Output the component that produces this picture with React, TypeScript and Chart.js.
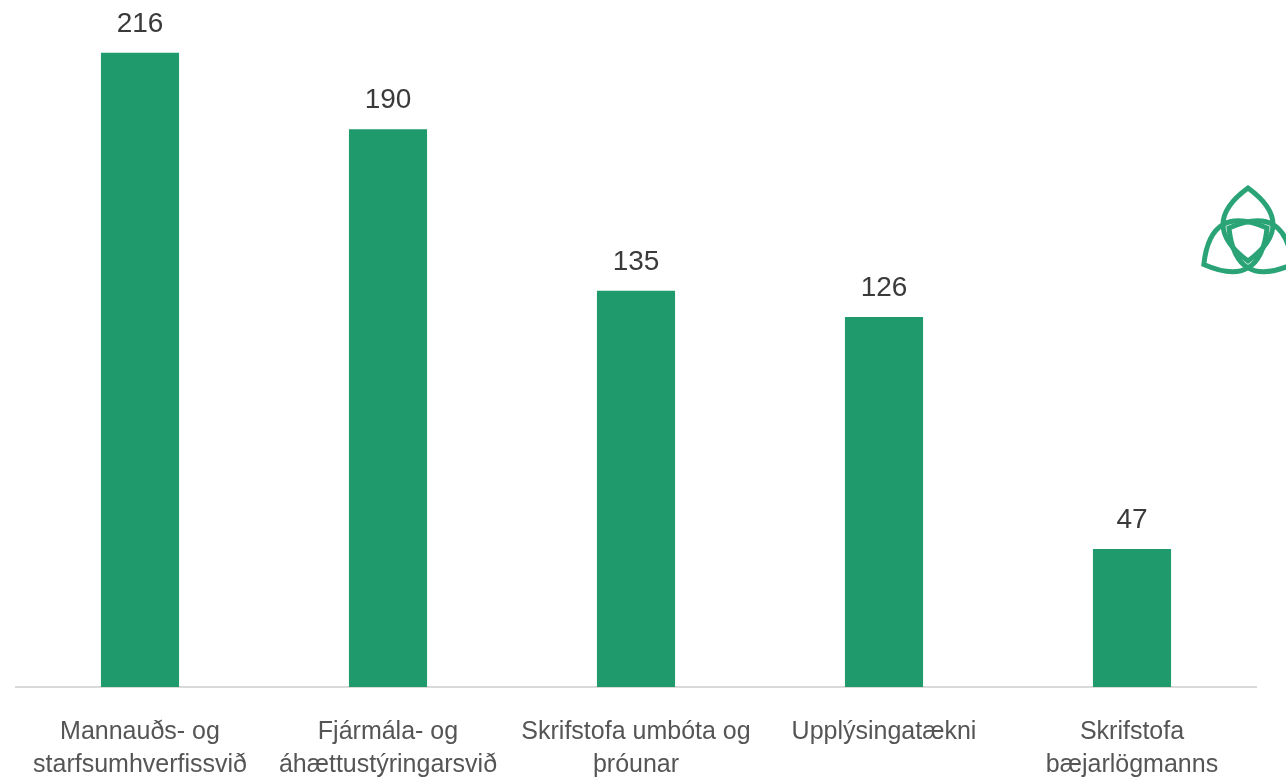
import React, { useEffect, useRef } from "react";
import { Chart, registerables } from "chart.js";

Chart.register(...registerables);

const categories: string[][] = [
  ["Mannauðs- og", "starfsumhverfissvið"],
  ["Fjármála- og", "áhættustýringarsvið"],
  ["Skrifstofa umbóta og", "þróunar"],
  ["Upplýsingatækni"],
  ["Skrifstofa", "bæjarlögmanns"],
];
const values: number[] = [216, 190, 135, 126, 47];

const BAR_COLOR = "#1f9a6c";
const LOGO_COLOR = "#2aa477";
const FONT = "'Liberation Sans', Arial, sans-serif";

const valueLabelPlugin = {
  id: "valueLabels",
  afterDatasetsDraw(chart: any) {
    const ctx = chart.ctx;
    const meta = chart.getDatasetMeta(0);
    ctx.save();
    ctx.font = `28px ${FONT}`;
    ctx.fillStyle = "#3a3a3a";
    ctx.textAlign = "center";
    ctx.textBaseline = "alphabetic";
    meta.data.forEach((bar: any, i: number) => {
      ctx.fillText(String(values[i]), bar.x, bar.y - 21);
    });
    ctx.restore();
  },
};

const logoPlugin = {
  id: "logo",
  afterDraw(chart: any) {
    const ctx = chart.ctx;
    const cx = 1248;
    const cy = 239;
    const L = 51;
    const back = 22;
    const hw = 25;
    ctx.save();
    ctx.lineWidth = 5;
    ctx.strokeStyle = LOGO_COLOR;
    ctx.lineJoin = "miter";
    [-90, 30, 150].forEach((deg) => {
      const a = (deg * Math.PI) / 180;
      const dx = Math.cos(a);
      const dy = Math.sin(a);
      const nx = -dy;
      const ny = dx;
      const p0x = cx - dx * back;
      const p0y = cy - dy * back;
      const p1x = cx + dx * L;
      const p1y = cy + dy * L;
      const mx = (p0x + p1x) / 2;
      const my = (p0y + p1y) / 2;
      ctx.beginPath();
      ctx.moveTo(p0x, p0y);
      ctx.quadraticCurveTo(mx + nx * hw * 2, my + ny * hw * 2, p1x, p1y);
      ctx.quadraticCurveTo(mx - nx * hw * 2, my - ny * hw * 2, p0x, p0y);
      ctx.closePath();
      ctx.stroke();
    });
    ctx.restore();
  },
};

export default function App() {
  const canvasRef = useRef<HTMLCanvasElement | null>(null);

  useEffect(() => {
    if (!canvasRef.current) return;
    const chart = new Chart(canvasRef.current, {
      type: "bar",
      data: {
        labels: categories,
        datasets: [
          {
            data: values,
            backgroundColor: BAR_COLOR,
            borderWidth: 0,
            barPercentage: 0.315,
            categoryPercentage: 1,
          },
        ],
      },
      options: {
        responsive: false,
        animation: false,
        devicePixelRatio: 1,
        layout: { padding: { left: 16, right: 30, top: 0, bottom: 0 } },
        plugins: {
          legend: { display: false },
          tooltip: { enabled: false },
        },
        scales: {
          x: {
            grid: { display: false },
            border: { display: true, color: "#d9d9d9", width: 2 },
            ticks: {
              color: "#555555",
              font: { family: FONT, size: 25, lineHeight: 1.32 },
              padding: 21,
              maxRotation: 0,
              autoSkip: false,
            },
            afterFit: (axis: any) => {
              axis.height = 93;
            },
          },
          y: {
            display: false,
            min: 0,
            max: 234,
          },
        },
      },
      plugins: [valueLabelPlugin, logoPlugin],
    });
    return () => chart.destroy();
  }, []);

  return (
    <div style={{ position: "absolute", left: 0, top: 0, width: 1286, height: 780, background: "#ffffff" }}>
      <canvas ref={canvasRef} width={1286} height={780} style={{ display: "block" }} />
    </div>
  );
}
